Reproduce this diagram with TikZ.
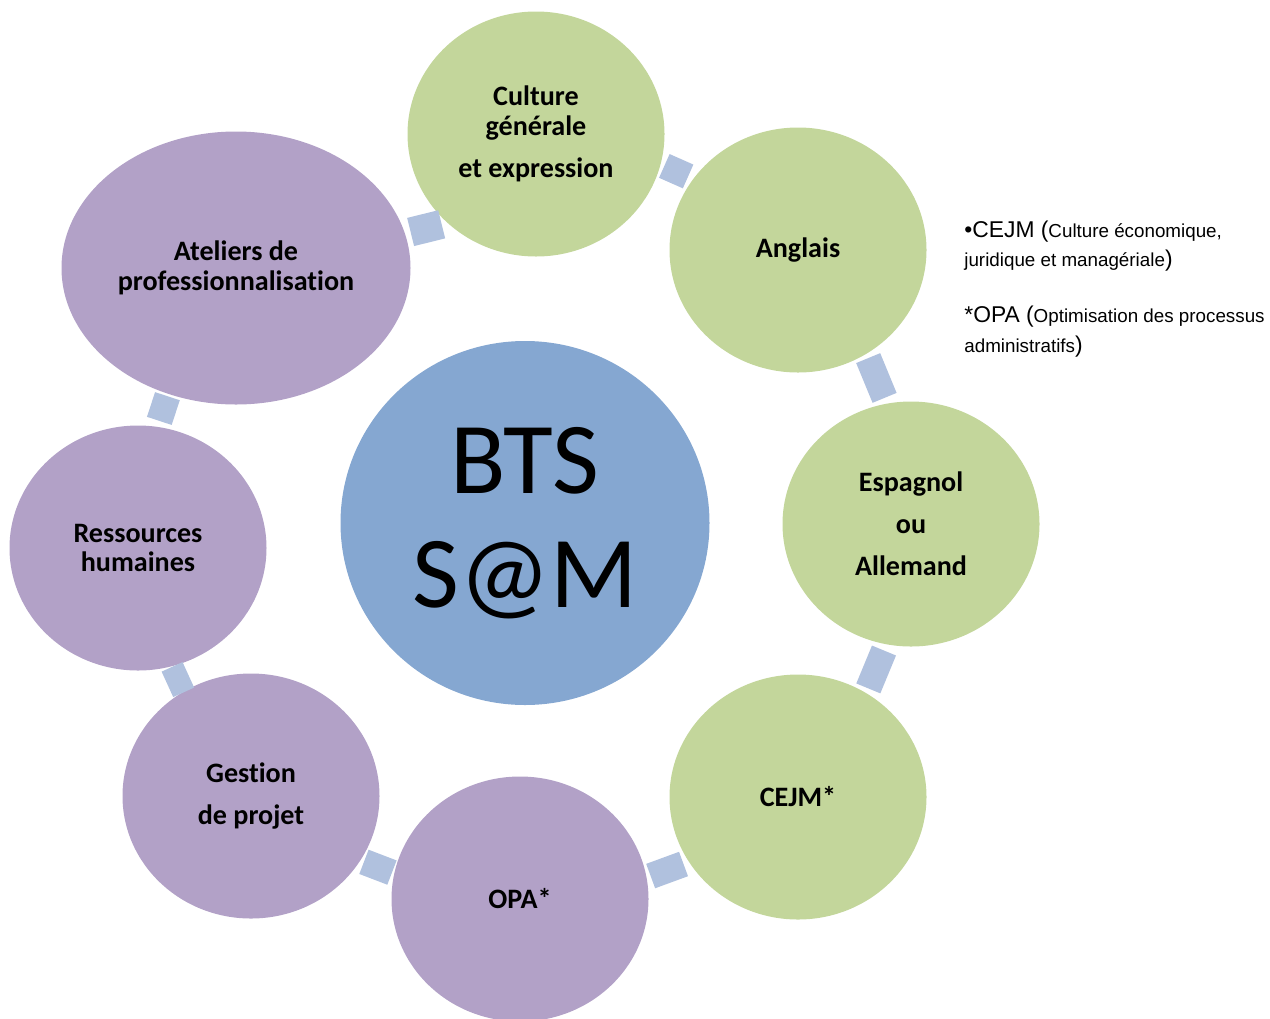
\documentclass[tikz,border=0pt]{standalone}
\usepackage{fontspec}
\setmainfont{Carlito}[Ligatures=NoCommon]
\newfontfamily\notefont{Liberation Sans}
\usetikzlibrary{shapes.geometric}
\definecolor{leafgreen}{HTML}{C3D69B}
\definecolor{leafpurple}{HTML}{B2A1C7}
\definecolor{hubblue}{HTML}{85A7D1}
\definecolor{linkblue}{HTML}{B0C1DE}
\newlength\pxl
\setlength\pxl{0.02cm}
\newcommand\notebig{\fontsize{13pt}{16pt}\selectfont}
\begin{document}
\begin{tikzpicture}[x=0.02cm, y=-0.02cm,
    leaf/.style={ellipse, fill=#1, inner sep=0, minimum width=257*\pxl, minimum height=245*\pxl, align=center, font=\fontsize{16pt}{17pt}\selectfont\bfseries},
    hub/.style={ellipse, fill=hubblue, inner sep=0, minimum width=369*\pxl, minimum height=364*\pxl, align=center, font=\fontsize{58pt}{65pt}\selectfont},
    link/.style={rectangle, fill=linkblue, inner sep=0, sloped, minimum width=#1*\pxl, minimum height=26*\pxl},
    note/.style={anchor=base west, inner sep=0, font=\notefont\fontsize{10.7pt}{12pt}\selectfont}]
    \useasboundingbox (0,0) rectangle (1270,1018);

    \node[hub] (bts) at (525,523) {BTS\\S@M};
    \node[leaf=leafgreen] (cul) at (536,134) {Culture\\générale\\[7pt]et expression};
    \node[leaf=leafgreen] (ang) at (798,250) {Anglais};
    \node[leaf=leafgreen] (esp) at (911,524) {Espagnol\\[7pt]ou\\[7pt]Allemand};
    \node[leaf=leafgreen] (cej) at (798,797) {CEJM*};
    \node[leaf=leafpurple] (opa) at (520,899) {OPA*};
    \node[leaf=leafpurple] (ges) at (251,796) {Gestion\\[7pt]de projet};
    \node[leaf=leafpurple] (res) at (138,548) {Ressources\\humaines};
    \node[leaf=leafpurple, minimum width=349*\pxl, minimum height=273*\pxl] (ate) at (236,268) {Ateliers de\\professionnalisation};

    \path (cul.center) to[bend left=15.7] node[link=26] (k1) {} (ang.center);
    \path (ang.center) to[bend left=15.8] node[link=43] (k2) {} (esp.center);
    \path (esp.center) to[bend left=15.7] node[link=41] (k3) {} (cej.center);
    \path (cej.center) to[bend left=15.7] node[link=35] (k4) {} (opa.center);
    \path (opa.center) to[bend left=14.5] node[link=30] (k5) {} (ges.center);
    \path (ges.center) to[bend left=13.2] node[link=28, minimum height=23*\pxl] (k6) {} (res.center);
    \path (res.center) to[bend left=14.8] node[link=26, pos=0.47] (k7) {} (ate.center);
    \path (ate.center) to[bend right=26] node[link=32, minimum height=29*\pxl, pos=0.58, rotate=-15] (k8) {} (cul.center);

    \node[note] (cejmnote) at (964,237) {{\notebig •CEJM (}Culture économique,};
    \node[note] (cejmtail) at (964,266) {juridique et managériale{\notebig )}};
    \node[note] (opanote) at (964,322) {{\notebig *OPA (}Optimisation des processus};
    \node[note] (opatail) at (964,352) {administratifs{\notebig )}};
\end{tikzpicture}
\end{document}
